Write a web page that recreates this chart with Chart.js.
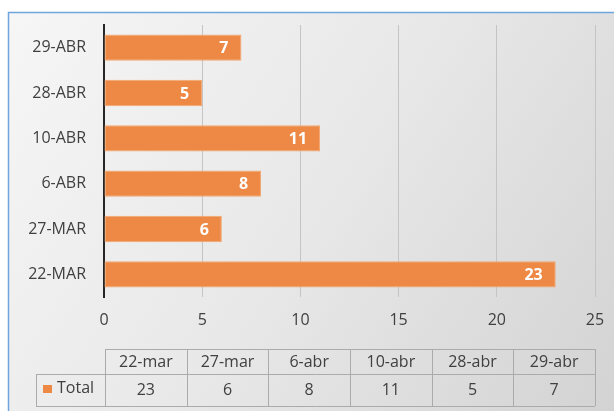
<!DOCTYPE html>
<html>
<head>
<meta charset="utf-8">
<script src="https://cdn.jsdelivr.net/npm/chart.js@4.4.1/dist/chart.umd.min.js"></script>
<style>
    html, body { margin: 0; padding: 0; background: #ffffff; }
    #grafico { display: block; }
</style>
</head>
<body>
<canvas id="grafico" width="614" height="411"></canvas>
<script>
// --- Dados ---
const categorias = ['22-MAR', '27-MAR', '6-ABR', '10-ABR', '28-ABR', '29-ABR'];
const rotulosTabela = ['22-mar', '27-mar', '6-abr', '10-abr', '28-abr', '29-abr'];
const totais = [23, 6, 8, 11, 5, 7];
const nomeSerie = 'Total';
const eixoMin = 0;
const eixoMax = 25;
const eixoPasso = 5;

const corBarra = '#ee8945';
const corTexto = '#404040';
const corGrade = '#c4c4c4';
const fonte = "'Open Sans', sans-serif";

Chart.defaults.font.family = fonte;
Chart.defaults.font.size = 16;
Chart.defaults.color = corTexto;

// --- Fundo e moldura ---
const fundoPlugin = {
    id: 'fundo',
    beforeDraw(chart) {
        const { ctx, width, height } = chart;
        ctx.save();
        ctx.fillStyle = '#ffffff';
        ctx.fillRect(0, 0, width, height);
        const grad = ctx.createLinearGradient(9, 13, width, height);
        grad.addColorStop(0, '#f6f6f6');
        grad.addColorStop(0.5, '#e8e8e8');
        grad.addColorStop(1, '#d3d3d3');
        ctx.fillStyle = grad;
        ctx.fillRect(8, 12, width - 8, height - 12);
        ctx.strokeStyle = '#6fa5dd';
        ctx.lineWidth = 1.5;
        ctx.beginPath();
        ctx.moveTo(8.5, height);
        ctx.lineTo(8.5, 12.5);
        ctx.lineTo(width, 12.5);
        ctx.stroke();
        ctx.restore();
    }
};

// --- Rótulos de dados dentro das barras ---
const rotulosPlugin = {
    id: 'rotulos',
    afterDatasetsDraw(chart) {
        const { ctx } = chart;
        const meta = chart.getDatasetMeta(0);
        ctx.save();
        ctx.fillStyle = '#ffffff';
        ctx.font = 'bold 16px ' + fonte;
        ctx.textAlign = 'right';
        ctx.textBaseline = 'middle';
        meta.data.forEach((barra, i) => {
            ctx.fillText(String(chart.data.datasets[0].data[i]), barra.x - 13, barra.y + 1);
        });
        ctx.restore();
    }
};

// --- Tabela de dados abaixo do eixo ---
const tabelaPlugin = {
    id: 'tabela',
    afterDraw(chart) {
        const { ctx, chartArea } = chart;
        const esq = chartArea.left + 1;
        const dir = chartArea.right;
        const larg = (dir - esq) / rotulosTabela.length;
        const topo = 349;
        const meio = 374;
        const base = 406;
        const esqLegenda = 36;

        ctx.save();
        ctx.strokeStyle = '#ababab';
        ctx.lineWidth = 1;
        ctx.beginPath();
        // linhas horizontais
        ctx.moveTo(esq, topo + 0.5); ctx.lineTo(dir, topo + 0.5);
        ctx.moveTo(esqLegenda, meio + 0.5); ctx.lineTo(dir, meio + 0.5);
        ctx.moveTo(esqLegenda, base + 0.5); ctx.lineTo(dir, base + 0.5);
        // linhas verticais
        ctx.moveTo(esqLegenda + 0.5, meio); ctx.lineTo(esqLegenda + 0.5, base);
        for (let i = 0; i <= rotulosTabela.length; i++) {
            const x = Math.round(esq + i * larg) + 0.5;
            ctx.moveTo(x, topo); ctx.lineTo(x, base);
        }
        ctx.stroke();

        ctx.fillStyle = corTexto;
        ctx.font = '16px ' + fonte;
        ctx.textAlign = 'center';
        ctx.textBaseline = 'middle';
        rotulosTabela.forEach((r, i) => {
            const cx = esq + (i + 0.5) * larg;
            ctx.fillText(r, cx, (topo + meio) / 2 + 1);
            ctx.fillText(String(totais[i]), cx, (meio + base) / 2);
        });

        // legenda da série
        ctx.fillStyle = corBarra;
        ctx.fillRect(43, 385, 9, 8);
        ctx.fillStyle = corTexto;
        ctx.textAlign = 'left';
        ctx.fillText(nomeSerie, 57, 388);
        ctx.restore();
    }
};

// --- Gráfico ---
const ctx = document.getElementById('grafico');
const grafico = new Chart(ctx, {
    type: 'bar',
    data: {
        labels: categorias,
        datasets: [{
            label: nomeSerie,
            data: totais,
            backgroundColor: corBarra,
            borderColor: '#f3a66f',
            borderWidth: 1,
            borderSkipped: false,
            barPercentage: 0.58,
            categoryPercentage: 1
        }]
    },
    options: {
        indexAxis: 'y',
        responsive: false,
        devicePixelRatio: 1,
        animation: false,
        layout: {
            padding: { top: 25, right: 19, left: 0, bottom: 0 }
        },
        plugins: {
            legend: { display: false },
            tooltip: { enabled: false }
        },
        scales: {
            x: {
                min: eixoMin,
                max: eixoMax,
                ticks: {
                    stepSize: eixoPasso,
                    padding: 3,
                    color: corTexto,
                    font: { size: 16 }
                },
                grid: {
                    color: (c) => c.tick && c.tick.value === 0 ? 'rgba(0,0,0,0)' : corGrade,
                    drawTicks: true,
                    tickLength: 11,
                    tickColor: 'rgba(0,0,0,0)'
                },
                border: { display: false },
                afterFit(scale) { scale.height = 114; }
            },
            y: {
                reverse: true,
                ticks: {
                    padding: 3,
                    color: corTexto,
                    font: { size: 16 }
                },
                grid: {
                    color: 'rgba(0,0,0,0)',
                    drawTicks: true,
                    tickLength: 15,
                    tickColor: 'rgba(0,0,0,0)'
                },
                border: { display: true, color: '#262626', width: 2 },
                afterFit(scale) { scale.width = 104; }
            }
        }
    },
    plugins: [fundoPlugin, rotulosPlugin, tabelaPlugin]
});
</script>
</body>
</html>
